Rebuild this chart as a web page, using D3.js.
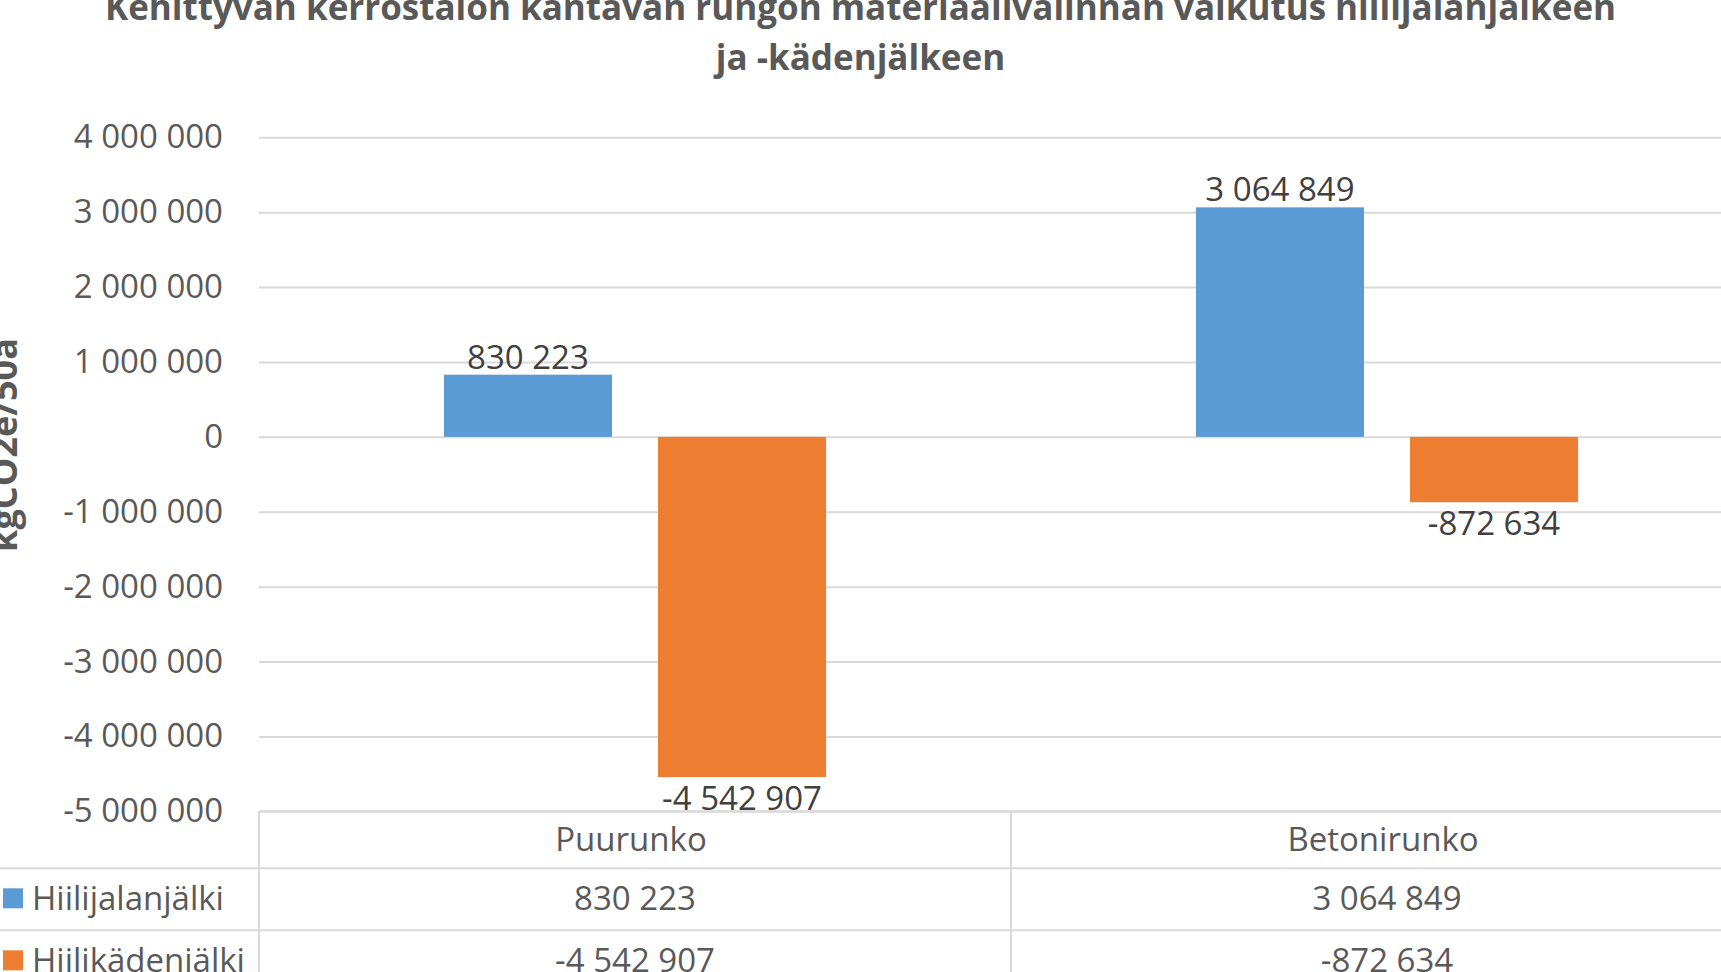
<!DOCTYPE html>
<html>
<head>
<meta charset="utf-8">
<script src="https://cdn.jsdelivr.net/npm/d3@7"></script>
<style>
  html, body { margin: 0; padding: 0; background: #fff; overflow: hidden; }
  svg { display: block; font-family: 'Open Sans', sans-serif; }
</style>
</head>
<body>
<div id="chart"></div>
<script>
const titleLines = [
  'Kehittyvän kerrostalon kantavan rungon materiaalivalinnan vaikutus hiilijalanjälkeen',
  'ja -kädenjälkeen',
];
const yTitle = 'kgCO2e/50a';
const categories = ['Puurunko', 'Betonirunko'];
const seriesNames = ['Hiilijalanjälki', 'Hiilikädenjälki'];
const footprint = [830223, 3064849];
const handprint = [-4542907, -872634];
const yTicks = [4000000, 3000000, 2000000, 1000000, 0, -1000000, -2000000, -3000000, -4000000, -5000000];
const colors = ['#5B9BD5', '#ED7D31'];

const width = 1721;
const height = 972;
const margin = { left: 259, top: 137.3, bottom: 811.3 };

const seriesValues = [footprint, handprint];
const data = categories.map((c, i) => ({
  category: c,
  values: seriesNames.map((s, j) => ({ series: s, value: seriesValues[j][i], idx: j })),
}));

// Excel style: space as thousands separator and plain hyphen minus
const fmt = d3.formatLocale({
  decimal: ',', thousands: ' ', grouping: [3], currency: ['', ''], minus: '-',
}).format(',d');

const x0 = d3.scaleBand()
  .domain(categories)
  .range([margin.left, margin.left + 2 * 752]);

const x1 = d3.scaleBand()
  .domain(seriesNames)
  .range([0, x0.bandwidth()])
  .paddingInner(0.215)
  .paddingOuter(0.864);

const y = d3.scaleLinear()
  .domain([-5000000, 4000000])
  .range([margin.bottom, margin.top]);

const svg = d3.select('#chart')
  .append('svg')
  .attr('width', width)
  .attr('height', height);

// title (first line runs off the top like in the source image)
svg.append('g')
  .selectAll('text')
  .data(titleLines)
  .join('text')
  .attr('x', width / 2)
  .attr('y', (d, i) => 20 + i * 50)
  .attr('text-anchor', 'middle')
  .attr('font-size', 35)
  .attr('font-weight', 'bold')
  .attr('fill', '#595959')
  .text((d) => d);

// y axis with gridlines
const yAxis = svg.append('g')
  .attr('transform', `translate(${margin.left},0)`)
  .call(d3.axisLeft(y).tickValues(yTicks).tickFormat(fmt).tickSize(0).tickPadding(36));

yAxis.select('.domain').remove();
yAxis.selectAll('.tick text')
  .attr('font-family', "'Open Sans', sans-serif")
  .attr('font-size', 33)
  .attr('fill', '#595959');
yAxis.selectAll('.tick line').clone()
  .attr('x2', width - margin.left)
  .attr('stroke', '#d9d9d9')
  .attr('stroke-width', 2);

svg.append('text')
  .attr('transform', 'translate(17,445) rotate(-90)')
  .attr('text-anchor', 'middle')
  .attr('font-size', 36)
  .attr('font-weight', 'bold')
  .attr('fill', '#595959')
  .text(yTitle);

// bars
const groups = svg.append('g')
  .selectAll('g')
  .data(data)
  .join('g')
  .attr('transform', (d) => `translate(${x0(d.category)},0)`);

groups.selectAll('rect')
  .data((d) => d.values)
  .join('rect')
  .attr('x', (d) => x1(d.series))
  .attr('y', (d) => y(Math.max(0, d.value)))
  .attr('width', x1.bandwidth())
  .attr('height', (d) => Math.abs(y(d.value) - y(0)))
  .attr('fill', (d) => colors[d.idx]);

groups.selectAll('text')
  .data((d) => d.values)
  .join('text')
  .attr('x', (d) => x1(d.series) + x1.bandwidth() / 2)
  .attr('y', (d) => (d.value >= 0 ? y(d.value) - 6 : y(d.value) + 33))
  .attr('text-anchor', 'middle')
  .attr('font-size', 33)
  .attr('fill', '#404040')
  .text((d) => fmt(d.value));

// data table below the plot
const table = svg.append('g');
const tableTop = margin.bottom;

table.selectAll('line.row')
  .data([0, 1, 2])
  .join('line')
  .attr('class', 'row')
  .attr('x1', (d) => (d === 0 ? margin.left : 0))
  .attr('x2', width)
  .attr('y1', (d) => tableTop + (d === 0 ? 0 : 57 + (d - 1) * 62))
  .attr('y2', (d) => tableTop + (d === 0 ? 0 : 57 + (d - 1) * 62))
  .attr('stroke', '#d9d9d9')
  .attr('stroke-width', 2);

table.selectAll('line.col')
  .data([...categories.map((c) => x0(c)), x0.range()[1]])
  .join('line')
  .attr('class', 'col')
  .attr('x1', (d) => d)
  .attr('x2', (d) => d)
  .attr('y1', tableTop)
  .attr('y2', height)
  .attr('stroke', '#d9d9d9')
  .attr('stroke-width', 2);

table.selectAll('text.cat')
  .data(categories)
  .join('text')
  .attr('class', 'cat')
  .attr('x', (d) => x0(d) + x0.bandwidth() / 2 - 4)
  .attr('y', tableTop + 40)
  .attr('text-anchor', 'middle')
  .attr('font-size', 33)
  .attr('fill', '#595959')
  .text((d) => d);

const rows = table.selectAll('g.srow')
  .data(seriesNames)
  .join('g')
  .attr('class', 'srow')
  .attr('transform', (d, i) => `translate(0,${tableTop + 57 + i * 62})`);

rows.append('rect')
  .attr('x', 3)
  .attr('y', 20)
  .attr('width', 20)
  .attr('height', 20)
  .attr('fill', (d, i) => colors[i]);

rows.append('text')
  .attr('x', 32)
  .attr('y', 42)
  .attr('font-size', 33)
  .attr('fill', '#595959')
  .text((d) => d);

rows.selectAll('text.val')
  .data((d, i) => categories.map((c, k) => ({ category: c, value: seriesValues[i][k] })))
  .join('text')
  .attr('class', 'val')
  .attr('x', (d) => x0(d.category) + x0.bandwidth() / 2)
  .attr('y', 42)
  .attr('text-anchor', 'middle')
  .attr('font-size', 33)
  .attr('fill', '#595959')
  .text((d) => fmt(d.value));
</script>
</body>
</html>
